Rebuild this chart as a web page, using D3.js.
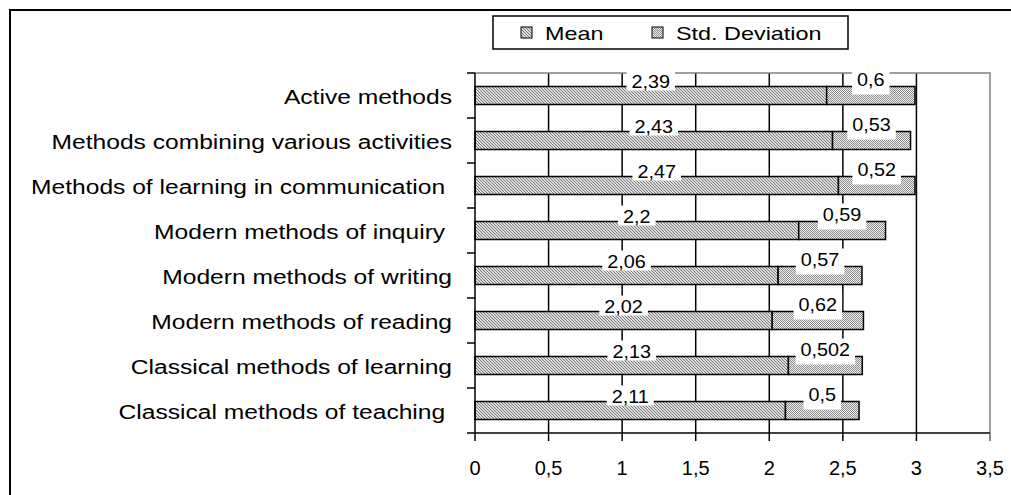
<!DOCTYPE html>
<html>
<head>
<meta charset="utf-8">
<script src="https://cdn.jsdelivr.net/npm/d3@7"></script>
<style>
  body { margin: 0; background: #fff; }
  svg { display: block; font-family: "Liberation Sans", Arial, sans-serif; }
</style>
</head>
<body>
<div class="container"></div>
<script>
// chart data, top to bottom
let categories = ['Active methods', 'Methods combining various activities', 'Methods of learning in communication ',
  'Modern methods of inquiry ', 'Modern methods of writing', 'Modern methods of reading',
  'Classical methods of learning', 'Classical methods of teaching '];
let meanValues = [2.39, 2.43, 2.47, 2.2, 2.06, 2.02, 2.13, 2.11];
let stdValues  = [0.6, 0.53, 0.52, 0.59, 0.57, 0.62, 0.502, 0.5];
let xTicks = [0, 0.5, 1, 1.5, 2, 2.5, 3, 3.5];
let seriesNames = ['Mean', 'Std. Deviation'];

let width = 1011,
    height = 495,
    plot = { left: 475, right: 990, top: 73, bottom: 433 };

let locale = d3.formatLocale({ decimal: ',', thousands: '.', grouping: [3], currency: ['', ''] });
let fmt = locale.format('~g');

let svg = d3.select('.container')
  .append('svg')
  .attr('width', width)
  .attr('height', height);

// fill patterns
let defs = svg.append('defs');
let pMean = defs.append('pattern')
  .attr('id', 'pat-mean')
  .attr('patternUnits', 'userSpaceOnUse')
  .attr('width', 3).attr('height', 3);
pMean.append('rect').attr('width', 3).attr('height', 3).attr('fill', '#dcdcdc');
pMean.append('path')
  .attr('d', 'M0,0L3,3M-1,2L1,4M2,-1L4,1')
  .attr('stroke', '#7a7a7a').attr('stroke-width', 1);

let pStd = defs.append('pattern')
  .attr('id', 'pat-std')
  .attr('patternUnits', 'userSpaceOnUse')
  .attr('width', 2).attr('height', 2);
pStd.append('rect').attr('width', 2).attr('height', 2).attr('fill', '#f0f0f0');
pStd.append('rect').attr('width', 1).attr('height', 1).attr('fill', '#8c8c8c');
pStd.append('rect').attr('x', 1).attr('y', 1).attr('width', 1).attr('height', 1).attr('fill', '#8c8c8c');

let patterns = ['url(#pat-mean)', 'url(#pat-std)'];

// outer frame (cropped at right / bottom)
svg.append('rect')
  .attr('x', 10).attr('y', 10)
  .attr('width', 1100).attr('height', 600)
  .attr('fill', 'none')
  .attr('stroke', '#000')
  .attr('stroke-width', 2);

let xScale = d3.scaleLinear()
  .domain([0, 3.5])
  .range([plot.left, plot.right]);

let yScale = d3.scaleBand()
  .domain(categories)
  .range([plot.top, plot.bottom])
  .paddingInner(0.6)
  .paddingOuter(0.3);

let step = yScale.step();

// gridlines
svg.append('g')
  .selectAll('line')
  .data(xTicks.filter(t => t > 0 && t < 3.5))
  .enter()
  .append('line')
  .attr('x1', d => xScale(d)).attr('x2', d => xScale(d))
  .attr('y1', plot.top).attr('y2', plot.bottom)
  .attr('stroke', '#000').attr('stroke-width', 1.5);

// top and right plot border (gray)
svg.append('path')
  .attr('d', `M${xScale(0)},${plot.top}H${xScale(3.5)}V${plot.bottom}`)
  .attr('fill', 'none')
  .attr('stroke', '#808080')
  .attr('stroke-width', 1.5);

// bars
let rows = categories.map((c, i) => ({ cat: c, mean: meanValues[i], std: stdValues[i] }));

let barG = svg.append('g');
barG.selectAll('.mean')
  .data(rows)
  .enter()
  .append('rect')
  .attr('class', 'mean')
  .attr('x', xScale(0))
  .attr('y', d => yScale(d.cat))
  .attr('width', d => xScale(d.mean) - xScale(0))
  .attr('height', yScale.bandwidth())
  .attr('fill', patterns[0])
  .attr('stroke', '#000').attr('stroke-width', 1.5);

barG.selectAll('.std')
  .data(rows)
  .enter()
  .append('rect')
  .attr('class', 'std')
  .attr('x', d => xScale(d.mean))
  .attr('y', d => yScale(d.cat))
  .attr('width', d => xScale(d.mean + d.std) - xScale(d.mean))
  .attr('height', yScale.bandwidth())
  .attr('fill', patterns[1])
  .attr('stroke', '#000').attr('stroke-width', 1.5);

// axes
let axisG = svg.append('g');
axisG.append('line')
  .attr('x1', xScale(0)).attr('x2', xScale(0))
  .attr('y1', plot.top).attr('y2', plot.bottom)
  .attr('stroke', '#000').attr('stroke-width', 1.5);
axisG.append('line')
  .attr('x1', xScale(0)).attr('x2', xScale(3.5))
  .attr('y1', plot.bottom).attr('y2', plot.bottom)
  .attr('stroke', '#000').attr('stroke-width', 1.5);

// y ticks at band boundaries
let boundaries = categories.map(c => yScale(c) - step * 0.3).concat([plot.bottom]);
axisG.selectAll('.ytick')
  .data(boundaries)
  .enter()
  .append('line')
  .attr('x1', xScale(0) - 8).attr('x2', xScale(0))
  .attr('y1', d => d).attr('y2', d => d)
  .attr('stroke', '#000').attr('stroke-width', 1.5);

// x ticks and labels
axisG.selectAll('.xtick')
  .data(xTicks)
  .enter()
  .append('line')
  .attr('x1', d => xScale(d)).attr('x2', d => xScale(d))
  .attr('y1', plot.bottom).attr('y2', plot.bottom + 8)
  .attr('stroke', d => d === 3.5 ? '#606060' : '#000').attr('stroke-width', 1.5);

axisG.selectAll('.xlabel')
  .data(xTicks)
  .enter()
  .append('text')
  .attr('x', d => xScale(d))
  .attr('y', plot.bottom + 42)
  .attr('text-anchor', 'middle')
  .style('font-size', '20px')
  .text(d => fmt(d));

// category labels
axisG.selectAll('.ylabel')
  .data(categories)
  .enter()
  .append('text')
  .attr('transform', d => `translate(452, ${yScale(d) + yScale.bandwidth() / 2 + 8}) scale(1.23, 1)`)
  .attr('text-anchor', 'end')
  .style('font-size', '20px')
  .style('white-space', 'pre')
  .text(d => d);

// data labels with white boxes
function addLabel(g, cx, cy, str, padBottom) {
  let t = g.append('text')
    .attr('transform', `translate(${cx}, ${cy}) scale(1.1, 1)`)
    .attr('text-anchor', 'middle')
    .style('font-size', '18px')
    .text(str);
  let w = t.node().getComputedTextLength() * 1.1;
  g.insert('rect', 'text')
    .attr('x', cx - w / 2 - 5)
    .attr('y', cy - 17)
    .attr('width', w + 10)
    .attr('height', 20 + padBottom)
    .attr('fill', '#fff');
}

rows.forEach(d => {
  let cy = yScale(d.cat) + yScale.bandwidth() / 2 - 8;
  let g1 = svg.append('g');
  addLabel(g1, (xScale(0) + xScale(d.mean)) / 2, cy, fmt(d.mean), 0);
  let g2 = svg.append('g');
  addLabel(g2, (xScale(d.mean) + xScale(d.mean + d.std)) / 2, cy - 2, fmt(d.std), 6);
});

// legend
let legend = svg.append('g').attr('id', 'legend');
legend.append('rect')
  .attr('x', 493).attr('y', 16)
  .attr('width', 355).attr('height', 33)
  .attr('fill', '#fff')
  .attr('stroke', '#000').attr('stroke-width', 1.5);

let legendX = [521, 652];
seriesNames.forEach((name, i) => {
  legend.append('rect')
    .attr('x', legendX[i]).attr('y', 27)
    .attr('width', 11).attr('height', 11)
    .attr('fill', patterns[i])
    .attr('stroke', '#000').attr('stroke-width', 1);
  legend.append('text')
    .attr('transform', `translate(${legendX[i] + 24}, 40) scale(1.3, 1)`)
    .style('font-size', '18px')
    .text(name);
});
</script>
</body>
</html>
